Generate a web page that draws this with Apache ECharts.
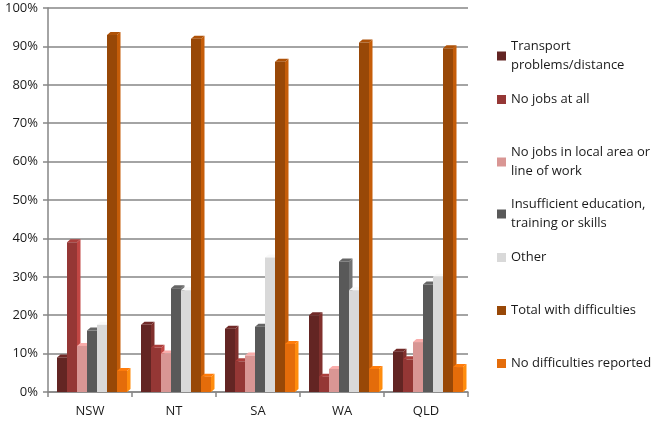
<!DOCTYPE html>
<html lang="en">
<head>
  <meta charset="UTF-8">
  <script src="https://cdn.jsdelivr.net/npm/echarts/dist/echarts.min.js"></script>
  <title>Difficulties finding work by state</title>
  <style>
    html, body { margin: 0; padding: 0; background: #fff; }
    #chart { width: 655px; height: 423px; }
  </style>
</head>
<body>
  <div id="chart"></div>
  <script>
    // categories and values (percent)
    const states = ['NSW', 'NT', 'SA', 'WA', 'QLD'];
    const seriesNames = [
      'Transport problems/distance',
      'No jobs at all',
      'No jobs in local area or line of work',
      'Insufficient education, training or skills',
      'Other',
      'Total with difficulties',
      'No difficulties reported'
    ];
    const legendLabels = [
      'Transport\nproblems/distance',
      'No jobs at all',
      'No jobs in local area or\nline of work',
      'Insufficient education,\ntraining or skills',
      'Other',
      'Total with difficulties',
      'No difficulties reported'
    ];
    const transport     = [9, 17.5, 16.5, 20, 10.5];
    const noJobs        = [39, 11.5, 8, 4, 8.5];
    const noLocalJobs   = [12, 10, 9.5, 6, 13];
    const insufficient  = [16, 27, 17, 34, 28];
    const other         = [17.5, 26.5, 35, 26.5, 30];
    const totalDiff     = [93, 92, 86, 91, 89.5];
    const noDiff        = [5.5, 4, 12.5, 6, 6.5];
    const values = [transport, noJobs, noLocalJobs, insufficient, other, totalDiff, noDiff];

    const colors = ['#632523', '#953735', '#d99694', '#595959', '#d9d9d9', '#984807', '#e46c0a'];

    const BAR_W = 10;   // front face width
    const DX = 3.5;     // depth offset to the right
    const DY = 3;       // depth offset upwards

    // fake excel-style 3d column: front face + side + top
    function make3dBar(idx) {
      const n = values.length;
      return function (params, api) {
        const ci = api.value(0);
        const v = api.value(1);
        const base = api.coord([ci, 0]);
        const top = api.coord([ci, v]);
        const x0 = base[0] - (n * BAR_W) / 2 + idx * BAR_W + 2;
        const x1 = x0 + BAR_W;
        const y0 = top[1];
        const y1 = base[1];
        const c = colors[idx];
        return {
          type: 'group',
          children: [
            {
              type: 'polygon',
              shape: { points: [[x1, y1], [x1 + DX, y1 - DY], [x1 + DX, y0 - DY], [x1, y0]] },
              style: { fill: echarts.color.lift(c, -0.3) }
            },
            {
              type: 'polygon',
              shape: { points: [[x0, y0], [x0 + DX, y0 - DY], [x1 + DX, y0 - DY], [x1, y0]] },
              style: { fill: echarts.color.lift(c, -0.15) }
            },
            {
              type: 'rect',
              shape: { x: x0, y: y0, width: BAR_W, height: y1 - y0 },
              style: { fill: c }
            }
          ]
        };
      };
    }

    const legendTops = [37, 90, 143, 195, 248, 301, 354];
    const font = '"Open Sans", "DejaVu Sans", sans-serif';
    const txt = '#1a1a1a';

    const chart = echarts.init(document.getElementById('chart'), null, { renderer: 'canvas' });

    const option = {
      backgroundColor: '#fff',
      animation: false,
      grid: { left: 48, right: 187, top: 8, bottom: 31 },
      legend: seriesNames.map((name, i) => ({
        data: [name],
        left: 497,
        top: legendTops[i],
        padding: 0,
        orient: 'vertical',
        itemWidth: 9,
        itemHeight: 9,
        itemGap: 0,
        icon: 'rect',
        selectedMode: false,
        formatter: () => legendLabels[i],
        textStyle: { fontFamily: font, fontSize: 13, color: txt, lineHeight: 19 }
      })),
      xAxis: {
        type: 'category',
        data: states,
        axisLine: { lineStyle: { color: '#868686', width: 1.5 } },
        axisTick: { show: true, length: 5, lineStyle: { color: '#868686', width: 1.5 } },
        axisLabel: { fontFamily: font, fontSize: 13, color: txt, margin: 13 }
      },
      yAxis: {
        type: 'value',
        min: 0,
        max: 100,
        interval: 10,
        axisLine: { show: true, lineStyle: { color: '#868686', width: 1.5 } },
        axisTick: { show: true, length: 5, lineStyle: { color: '#868686', width: 1.5 } },
        splitLine: { lineStyle: { color: '#868686', width: 1.5 } },
        axisLabel: { formatter: '{value}%', fontFamily: font, fontSize: 13, color: txt, margin: 10 }
      },
      series: seriesNames.map((name, i) => ({
        name: name,
        type: 'custom',
        itemStyle: { color: colors[i] },
        renderItem: make3dBar(i),
        encode: { x: 0, y: 1 },
        data: values[i].map((v, ci) => [ci, v])
      }))
    };

    chart.setOption(option);
  </script>
</body>
</html>
